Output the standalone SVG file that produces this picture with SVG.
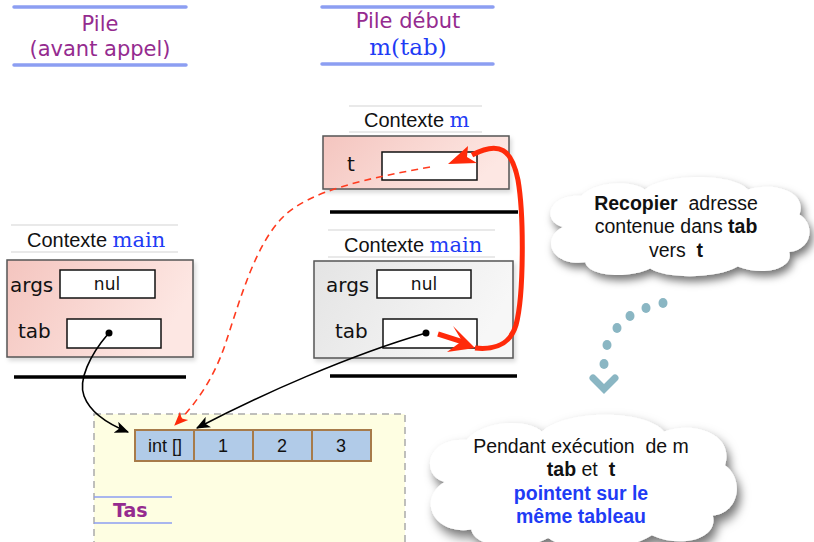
<svg xmlns="http://www.w3.org/2000/svg" width="814" height="542" viewBox="0 0 814 542">
  <style>
    .hdr { font-family: "DejaVu Sans", sans-serif; font-size: 21px; fill: #952b8f; text-anchor: middle; }
    .hline { stroke: #8c9ef2; stroke-width: 3.5; stroke-linecap: round; }
    .gline { stroke: #d4d4d4; stroke-width: 1.2; }
    .bline { stroke: #000; stroke-width: 3.5; }
    .ctx { font-family: "Liberation Sans", Arial, sans-serif; font-size: 20px; fill: #111; }
    .kw { font-family: "DejaVu Serif", serif; fill: #1f3cf5; }
    .var { font-family: "DejaVu Sans", sans-serif; font-size: 20px; fill: #111; }
    .cell { fill: #fff; stroke: #111; stroke-width: 1.5; }
    .val { font-family: "DejaVu Sans", sans-serif; font-size: 17px; fill: #111; text-anchor: middle; }
    .frame { stroke: #555; stroke-width: 1.5; filter: url(#boxshadow); }
    .arr { fill: #b1cbe8; stroke: #a77b4a; stroke-width: 2; }
    .num { font-family: "Liberation Sans", Arial, sans-serif; font-size: 18px; fill: #111; text-anchor: middle; }
    .note { font-family: "Liberation Sans", Arial, sans-serif; font-size: 19.5px; fill: #111; text-anchor: middle; }
    .bold { font-weight: bold; }
    .blue { fill: #1f3cf5; font-weight: bold; }
    .dot { fill: #8ab6c3; }
  </style>
  <defs>
    <linearGradient id="pink" x1="0" y1="0" x2="1" y2="0.3">
      <stop offset="0" stop-color="#f4c5bf"/>
      <stop offset="1" stop-color="#fde7e3"/>
    </linearGradient>
    <linearGradient id="grey" x1="0" y1="0" x2="1" y2="0.3">
      <stop offset="0" stop-color="#e4e4e4"/>
      <stop offset="1" stop-color="#f7f7f7"/>
    </linearGradient>
    <filter id="boxshadow" x="-10%" y="-10%" width="125%" height="130%">
      <feDropShadow dx="2" dy="3" stdDeviation="2" flood-color="#000" flood-opacity="0.15"/>
    </filter>
    <filter id="cloudshadow" x="-10%" y="-10%" width="125%" height="135%">
      <feDropShadow dx="3" dy="5" stdDeviation="4" flood-color="#000" flood-opacity="0.55"/>
    </filter>
    <marker id="headBlack" viewBox="0 0 12 10" refX="11" refY="5" markerWidth="14" markerHeight="12" markerUnits="userSpaceOnUse" orient="auto">
      <path d="M0,0 L12,5 L0,10 L3,5 Z" fill="#000"/>
    </marker>
    <marker id="headRed" viewBox="0 0 12 10" refX="11" refY="5" markerWidth="14" markerHeight="13" markerUnits="userSpaceOnUse" orient="auto">
      <path d="M0,0 L12,5 L0,10 L3,5 Z" fill="#ff2a0a"/>
    </marker>
    <path id="cloud" d="M20,50 C0,45 5,18 38,20 C55,4 90,6 100,14 C120,-2 185,-2 200,14 C225,6 258,16 250,38 C266,48 262,72 240,74 C245,90 215,98 190,88 C170,100 120,100 105,90 C85,100 45,98 42,84 C10,88 -2,62 20,50 Z"/>
  </defs>

  <rect width="814" height="542" fill="#fff"/>

  <!-- stack headers -->
  <g id="header-before">
    <line class="hline" x1="14" y1="7" x2="186" y2="7"/>
    <text class="hdr" x="100" y="31">Pile</text>
    <text class="hdr" x="100" y="56">(avant appel)</text>
    <line class="hline" x1="14" y1="65" x2="186" y2="65"/>
  </g>
  <g id="header-call">
    <line class="hline" x1="322" y1="7" x2="493" y2="7"/>
    <text class="hdr" x="408" y="28">Pile début</text>
    <text class="kw" x="408" y="55" font-size="23" text-anchor="middle">m(tab)</text>
    <line class="hline" x1="322" y1="64" x2="493" y2="64"/>
  </g>

  <!-- heap area -->
  <g id="heap">
    <rect x="94" y="414" width="311" height="140" fill="#fefee2" stroke="#aaa" stroke-width="1.5" stroke-dasharray="7 5"/>
    <line x1="94" y1="497" x2="172" y2="497" stroke="#8c9ef2" stroke-width="1.5"/>
    <line x1="94" y1="523" x2="172" y2="523" stroke="#8c9ef2" stroke-width="1.5"/>
    <text x="113" y="517" font-family="DejaVu Sans, sans-serif" font-size="19" font-weight="bold" fill="#952b8f">Tas</text>
  </g>

  <!-- left stack: main frame -->
  <g id="main-before">
    <line class="gline" x1="11" y1="225" x2="178" y2="225"/>
    <text class="ctx" x="27" y="247">Contexte <tspan class="kw" font-size="21">main</tspan></text>
    <line class="gline" x1="11" y1="252" x2="178" y2="252"/>
    <rect class="frame" x="7" y="260" width="186" height="97" fill="url(#pink)"/>
    <text class="var" x="10" y="292">args</text>
    <rect class="cell" x="60" y="270" width="95" height="28"/>
    <text class="val" x="107" y="290">nul</text>
    <text class="var" x="18" y="338">tab</text>
    <rect class="cell" x="67" y="319" width="94" height="29"/>
    <circle cx="109" cy="333" r="3.5" fill="#000"/>
    <line class="bline" x1="14" y1="377" x2="186" y2="377"/>
  </g>

  <!-- right stack: frame of m -->
  <g id="m-frame">
    <line class="gline" x1="349" y1="106" x2="482" y2="106"/>
    <text class="ctx" x="364" y="127">Contexte <tspan class="kw" font-size="21">m</tspan></text>
    <line class="gline" x1="349" y1="132" x2="482" y2="132"/>
    <rect class="frame" x="323" y="136" width="186" height="53" fill="url(#pink)"/>
    <text class="var" x="347" y="171">t</text>
    <rect class="cell" x="382" y="152" width="95" height="28"/>
    <line class="bline" x1="330" y1="212" x2="518" y2="212"/>
  </g>

  <!-- right stack: main frame -->
  <g id="main-call">
    <line class="gline" x1="328" y1="230" x2="495" y2="230"/>
    <text class="ctx" x="344" y="252">Contexte <tspan class="kw" font-size="21">main</tspan></text>
    <line class="gline" x1="328" y1="257" x2="495" y2="257"/>
    <rect class="frame" x="314" y="261" width="199" height="97" fill="url(#grey)"/>
    <text class="var" x="326" y="292">args</text>
    <rect class="cell" x="377" y="270" width="94" height="28"/>
    <text class="val" x="424" y="290">nul</text>
    <text class="var" x="335" y="338">tab</text>
    <rect class="cell" x="383" y="319" width="94" height="29"/>
    <circle cx="426" cy="333" r="3.5" fill="#000"/>
    <line class="bline" x1="330" y1="376" x2="517" y2="376"/>
  </g>

  <!-- int[] array on the heap -->
  <g id="array">
    <rect class="arr" x="135" y="430" width="59" height="31"/>
    <rect class="arr" x="194" y="430" width="59" height="31"/>
    <rect class="arr" x="253" y="430" width="59" height="31"/>
    <rect class="arr" x="312" y="430" width="59" height="31"/>
    <text class="num" x="165" y="452">int []</text>
    <text class="num" x="223" y="452">1</text>
    <text class="num" x="282" y="452">2</text>
    <text class="num" x="341" y="452">3</text>
  </g>

  <!-- references and copy arrow -->
  <g id="connectors" fill="none">
    <path d="M108,334 C90,355 78,380 84,396 C90,412 108,424 128,432" stroke="#000" stroke-width="1.6" marker-end="url(#headBlack)"/>
    <path d="M426,333 C350,355 260,395 197,428" stroke="#000" stroke-width="1.6" marker-end="url(#headBlack)"/>
    <path d="M430,167 C370,178 310,190 283,217 C255,245 240,300 225,345 C213,380 195,405 175,425" stroke="#ff3b1f" stroke-width="1.6" stroke-dasharray="7 5" marker-end="url(#headRed)"/>
    <path d="M438,334 L463,342" stroke="#ff2a0a" stroke-width="5"/>
    <path d="M475,348 C495,350 510,345 516,325 C524,295 524,215 518,180 C512,150 500,140 472,155" stroke="#ff2a0a" stroke-width="5"/>
    <path d="M475,348 L453,326 L462,341 L447,352 Z" fill="#ff2a0a"/>
    <path d="M448,164 L468,146 L467,157 L477,163 Z" fill="#ff2a0a"/>
  </g>

  <!-- callout clouds -->
  <g id="note-copy">
    <use href="#cloud" transform="translate(542,175) scale(1.03,1.04)" fill="#fff" filter="url(#cloudshadow)"/>
    <text class="note" x="676" y="210"><tspan class="bold">Recopier</tspan>&#160; adresse</text>
    <text class="note" x="676" y="233">contenue dans <tspan class="bold">tab</tspan></text>
    <text class="note" x="676" y="257">vers&#160; <tspan class="bold">t</tspan></text>
  </g>

  <g id="flow-hint">
    <ellipse class="dot" cx="663" cy="303" rx="4.5" ry="5"/>
    <ellipse class="dot" cx="646" cy="308" rx="4.5" ry="5"/>
    <ellipse class="dot" cx="630" cy="316" rx="4.5" ry="5"/>
    <ellipse class="dot" cx="617" cy="328" rx="4.5" ry="5"/>
    <ellipse class="dot" cx="607" cy="345" rx="4.5" ry="5"/>
    <ellipse class="dot" cx="604" cy="364" rx="4.5" ry="5"/>
    <path d="M593,378 L604,389 L615,378" fill="none" stroke="#8ab6c3" stroke-width="7" stroke-linecap="round" stroke-linejoin="miter"/>
  </g>

  <g id="note-share">
    <use href="#cloud" transform="translate(420,412) scale(1.22,1.4)" fill="#fff" filter="url(#cloudshadow)"/>
    <text class="note" x="581" y="453">Pendant exécution&#160; de m</text>
    <text class="note" x="581" y="476"><tspan class="bold">tab</tspan> et&#160; <tspan class="bold">t</tspan></text>
    <text class="note blue" x="581" y="500">pointent sur le</text>
    <text class="note blue" x="581" y="523">même tableau</text>
  </g>
</svg>
